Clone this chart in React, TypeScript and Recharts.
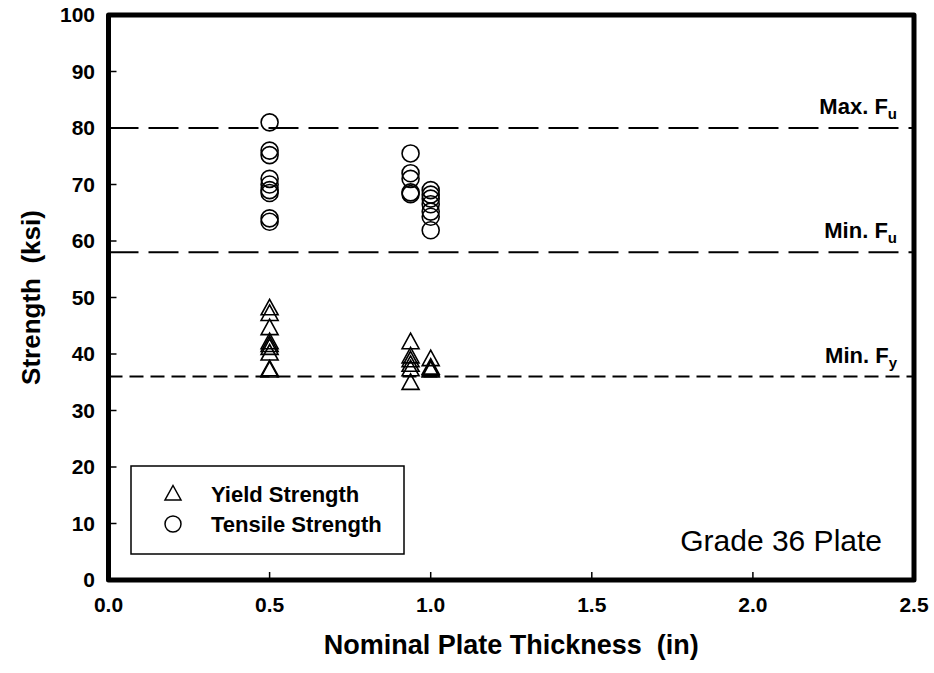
import React from 'react';
import {
  ScatterChart,
  Scatter,
  XAxis,
  YAxis,
  ReferenceLine,
  ReferenceArea,
  Label,
} from 'recharts';

const FONT = '"Liberation Sans", Arial, Helvetica, sans-serif';

const xTicks = [0, 0.5, 1.0, 1.5, 2.0, 2.5];
const yTicks = [0, 10, 20, 30, 40, 50, 60, 70, 80, 90, 100];

// Yield strength (ksi) by nominal thickness
const yieldHalf = [48, 47, 44.5, 42, 41.5, 41, 40, 37.2, 37];
const yieldFifteenSixteenths = [42, 39.5, 38.8, 38, 37.2, 34.8];
const yieldOne = [39, 37.5, 37.2, 37];

// Tensile strength (ksi) by nominal thickness
const tensileHalf = [81, 76, 75.2, 71, 70, 69, 68.5, 64, 63.4];
const tensileFifteenSixteenths = [75.5, 72, 71, 68.6, 68.3];
const tensileOne = [69, 68.2, 67.5, 66.5, 65.2, 64.3, 61.9];

const thicknesses = [0.5, 0.9375, 1.0];

const limitLines = [
  { value: 80, name: 'Max. F', sub: 'u', dash: '30 10' },
  { value: 58, name: 'Min. F', sub: 'u', dash: '30 10' },
  { value: 36, name: 'Min. F', sub: 'y', dash: '14 7' },
];

const toPoints = (groups: number[][]) =>
  groups.flatMap((vals, i) => vals.map((v) => ({ x: thicknesses[i], y: v })));

const yieldData = toPoints([yieldHalf, yieldFifteenSixteenths, yieldOne]);
const tensileData = toPoints([tensileHalf, tensileFifteenSixteenths, tensileOne]);

const Triangle = (props: any) => {
  const { cx, cy } = props;
  if (cx == null || cy == null) return null;
  return (
    <polygon
      points={`${cx},${cy - 9.5} ${cx + 8.5},${cy + 6} ${cx - 8.5},${cy + 6}`}
      fill="none"
      stroke="#000"
      strokeWidth={1.6}
    />
  );
};

const Circle = (props: any) => {
  const { cx, cy } = props;
  if (cx == null || cy == null) return null;
  return <circle cx={cx} cy={cy} r={8.5} fill="none" stroke="#000" strokeWidth={1.6} />;
};

const tickStyle = { fill: '#000', fontSize: 21, fontWeight: 'bold' as const, fontFamily: FONT };

const makeLimitLabel = (name: string, sub: string) => (props: any) => {
  const vb = props.viewBox || {};
  const right = (vb.x ?? 0) + (vb.width ?? 0) - 17;
  const y = (vb.y ?? 0) - 14;
  return (
    <text x={right} y={y} textAnchor="end" fontFamily={FONT} fontWeight="bold" fontSize={22} fill="#000">
      {name}
      <tspan fontSize={15} dy={5}>
        {sub}
      </tspan>
    </text>
  );
};

export default function App() {
  return (
    <div style={{ position: 'absolute', left: 0, top: 0, width: 934, height: 673, background: '#fff' }}>
      <ScatterChart width={934} height={673} margin={{ top: 5, right: 10, bottom: 33, left: 48.5 }}>
        <XAxis
          xAxisId="b"
          dataKey="x"
          type="number"
          domain={[0, 2.5]}
          ticks={xTicks}
          tickFormatter={(v: number) => v.toFixed(1)}
          axisLine={false}
          tickSize={-8}
          tickMargin={25.5}
          tickLine={{ stroke: '#000', strokeWidth: 1.5 }}
          tick={tickStyle}
          height={60}
          interval={0}
        >
          <Label
            content={(p: any) => {
              const vb = p.viewBox || { x: 108.5, y: 580, width: 805.5 };
              return (
                <text
                  x={vb.x + vb.width / 2}
                  y={vb.y + 74}
                  textAnchor="middle"
                  fontFamily={FONT}
                  fontWeight="bold"
                  fontSize={27}
                  fill="#000"
                  style={{ whiteSpace: 'pre' }}
                >
                  {'Nominal Plate Thickness  (in)'}
                </text>
              );
            }}
          />
        </XAxis>
        <XAxis
          xAxisId="t"
          orientation="top"
          dataKey="x"
          type="number"
          domain={[0, 2.5]}
          ticks={xTicks}
          axisLine={false}
          tickSize={-8}
          tickLine={{ stroke: '#000', strokeWidth: 1.5 }}
          tick={false}
          height={10}
          interval={0}
        />
        <YAxis
          yAxisId="l"
          dataKey="y"
          type="number"
          domain={[0, 100]}
          ticks={yTicks}
          axisLine={false}
          tickSize={-8}
          tickMargin={21.5}
          tickLine={{ stroke: '#000', strokeWidth: 1.5 }}
          tick={tickStyle}
          width={60}
          interval={0}
        >
          <Label
            content={(p: any) => {
              const vb = p.viewBox || { x: 48.5, y: 15, height: 565 };
              const cx = vb.x - 9;
              const cy = vb.y + vb.height / 2;
              return (
                <text
                  x={cx}
                  y={cy}
                  transform={`rotate(-90, ${cx}, ${cy})`}
                  textAnchor="middle"
                  fontFamily={FONT}
                  fontWeight="bold"
                  fontSize={26}
                  fill="#000"
                  style={{ whiteSpace: 'pre' }}
                >
                  {'Strength  (ksi)'}
                </text>
              );
            }}
          />
        </YAxis>
        <YAxis
          yAxisId="r"
          orientation="right"
          dataKey="y"
          type="number"
          domain={[0, 100]}
          ticks={yTicks}
          axisLine={false}
          tickSize={-8}
          tickLine={{ stroke: '#000', strokeWidth: 1.5 }}
          tick={false}
          width={10}
          interval={0}
        />
        {limitLines.map((l) => (
          <ReferenceLine
            key={l.value + l.sub}
            xAxisId="b"
            yAxisId="l"
            y={l.value}
            stroke="#000"
            strokeWidth={2}
            strokeDasharray={l.dash}
            label={makeLimitLabel(l.name, l.sub)}
          />
        ))}
        <Scatter
          name="Yield Strength"
          xAxisId="b"
          yAxisId="l"
          data={yieldData}
          shape={Triangle}
          isAnimationActive={false}
        />
        <Scatter
          name="Tensile Strength"
          xAxisId="b"
          yAxisId="l"
          data={tensileData}
          shape={Circle}
          isAnimationActive={false}
        />
        <ReferenceArea
          xAxisId="b"
          yAxisId="l"
          x1={0}
          x2={2.5}
          y1={0}
          y2={100}
          fill="none"
          fillOpacity={0}
          stroke="#000"
          strokeWidth={5}
          strokeOpacity={1}
          strokeLinejoin="round"
        />
      </ScatterChart>
      <svg
        width={934}
        height={673}
        style={{ position: 'absolute', left: 0, top: 0, pointerEvents: 'none' }}
      >
        <rect x={131} y={466} width={273} height={88} fill="none" stroke="#000" strokeWidth={1.5} />
        <polygon points="173,485.5 181,500 165,500" fill="none" stroke="#000" strokeWidth={1.5} />
        <circle cx={173} cy={524} r={8} fill="none" stroke="#000" strokeWidth={1.5} />
        <text x={211} y={502} fontFamily={FONT} fontWeight="bold" fontSize={22} fill="#000">
          Yield Strength
        </text>
        <text x={211} y={532} fontFamily={FONT} fontWeight="bold" fontSize={22} fill="#000">
          Tensile Strength
        </text>
        <text x={882} y={551} textAnchor="end" fontFamily={FONT} fontSize={30} fill="#000">
          Grade 36 Plate
        </text>
      </svg>
    </div>
  );
}
